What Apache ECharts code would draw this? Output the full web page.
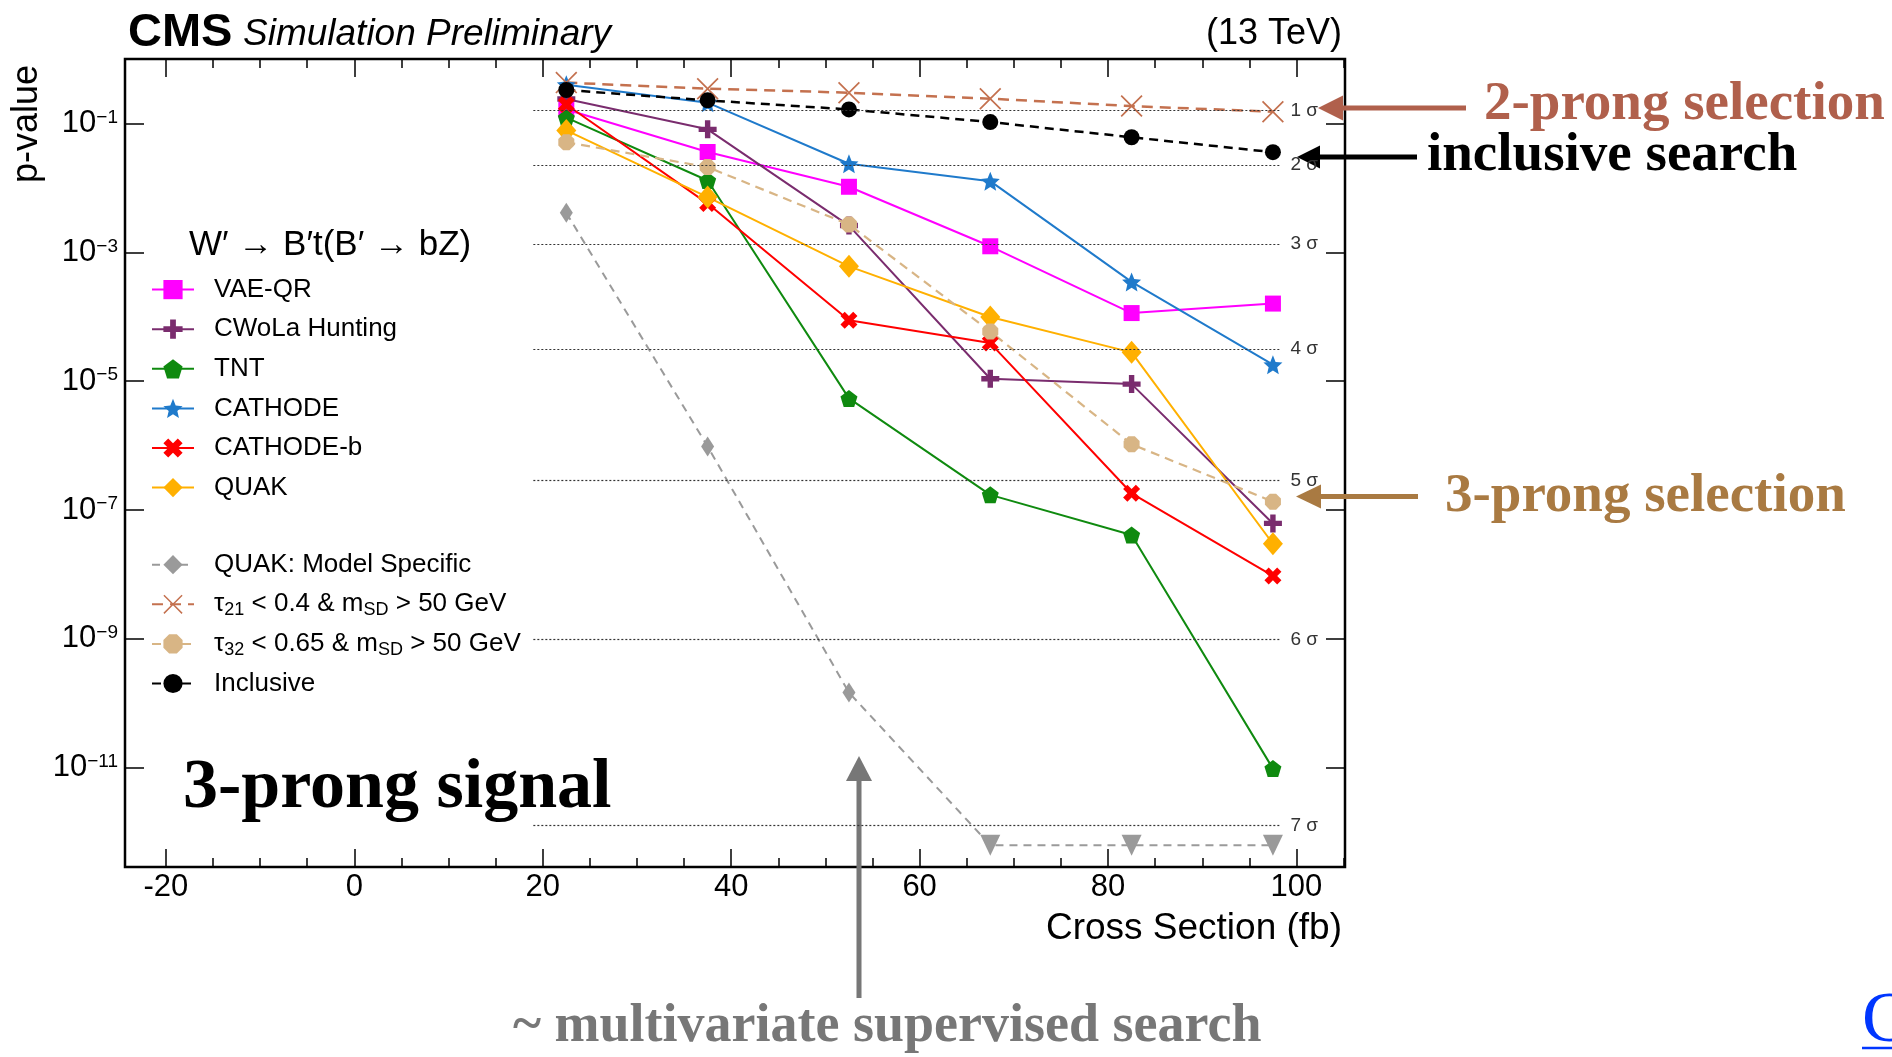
<!DOCTYPE html>
<html>
<head>
<meta charset="utf-8">
<title>p-value vs injected cross section</title>
<script src="https://cdn.jsdelivr.net/npm/echarts@6.0.0/dist/echarts.min.js"></script>
<style>
html, body { margin: 0; padding: 0; background: #fff; }
#chart { width: 1892px; height: 1057px; }
</style>
</head>
<body>
<div id="chart"></div>
<script>
// ---- data ---------------------------------------------------------------
// injected signal cross sections (fb)
const crossSections = [22.5, 37.5, 52.5, 67.5, 82.5, 97.5];

// local p-values of each search at every injected cross section
const vaeQr        = [0.165, 0.036, 0.0104, 1.24e-3, 1.14e-4, 1.6e-4];
const cwolaHunting = [0.24, 0.081, 2.6e-3, 1.09e-5, 9.0e-6, 6.2e-8];
const tnt          = [0.123, 0.013, 5.4e-6, 1.72e-7, 4.1e-8, 9.7e-12];
const cathode      = [0.40, 0.21, 0.0237, 0.0127, 3.47e-4, 1.8e-5];
const cathodeB     = [0.197, 5.7e-3, 8.8e-5, 3.9e-5, 1.82e-7, 9.5e-9];
const quak         = [0.078, 7.2e-3, 6.05e-4, 9.9e-5, 2.8e-5, 3.0e-8];
const quakModelSpecific = [4.1e-3, 9.7e-7, 1.47e-10, 6.3e-13, 6.3e-13, 6.3e-13];
// points that fall below the plotted range are drawn as downward triangles
const quakModelSpecificOffScale = [false, false, false, true, true, true];
const tau21Cut     = [0.43, 0.346, 0.30, 0.242, 0.186, 0.152];
const tau32Cut     = [0.051, 0.021, 2.7e-3, 5.9e-5, 1.05e-6, 1.35e-7];
const inclusive    = [0.33, 0.228, 0.165, 0.105, 0.061, 0.0358];

// one-sided significance reference lines
const sigmaLabels  = ['1 \u03c3', '2 \u03c3', '3 \u03c3', '4 \u03c3', '5 \u03c3', '6 \u03c3', '7 \u03c3'];
const sigmaPValues = [1.587e-1, 2.275e-2, 1.350e-3, 3.167e-5, 2.867e-7, 9.866e-10, 1.280e-12];
const sigmaXRange  = [19.0, 98.3];

// axes
const xTickValues   = [-20, 0, 20, 40, 60, 80, 100];
const xRange        = [-24.34, 105.15];
const yTickExponents = [-11, -9, -7, -5, -3, -1];   // labelled decades, 10^n
const logPRange     = [-12.54, 0];                   // log10(p) range

// ---- styling ------------------------------------------------------------
const FONT = '"Liberation Sans", Arial, Helvetica, sans-serif';
const SERIF = '"Liberation Serif", "Times New Roman", serif';

const SYM_PLUS    = 'path://M7,0H13V7H20V13H13V20H7V13H0V7H7Z';
const SYM_XTHICK  = 'path://M0,5L5,0L10,5L15,0L20,5L15,10L20,15L15,20L10,15L5,20L0,15L5,10Z';
const SYM_XTHIN   = 'path://M0,1.1L1.1,0L10,8.9L18.9,0L20,1.1L11.1,10L20,18.9L18.9,20L10,11.1L1.1,20L0,18.9L8.9,10Z';
const SYM_STAR    = 'path://M10,0L12.65,6.36L19.51,6.91L14.28,11.39L15.88,18.09L10,14.5L4.12,18.09L5.72,11.39L0.49,6.91L7.35,6.36Z';
const SYM_PENT    = 'path://M10,0L19.51,6.91L15.88,18.09L4.12,18.09L0.49,6.91Z';
const SYM_OCT     = 'path://M6,0H14L20,6V14L14,20H6L0,14V6Z';

function toPoints(values) {
  return crossSections.map((x, i) => [x, Math.log10(values[i])]);
}

function lineSeries(name, values, color, symbol, size, lineType, width) {
  return {
    name: name,
    type: 'line',
    data: toPoints(values),
    symbol: symbol,
    symbolSize: size,
    showSymbol: true,
    showAllSymbol: true,
    lineStyle: { color: color, width: width, type: lineType },
    itemStyle: { color: color },
    emphasis: { disabled: true },
    silent: true,
    animation: false
  };
}

const quakMsData = crossSections.map((x, i) => {
  const pt = [x, Math.log10(quakModelSpecific[i])];
  if (quakModelSpecificOffScale[i]) {
    return { value: pt, symbol: 'triangle', symbolRotate: 180, symbolSize: [20, 21] };
  }
  return { value: pt };
});

const series = [
  // significance reference lines
  {
    name: 'sigma',
    type: 'line',
    data: [],
    silent: true,
    animation: false,
    z: 1,
    markLine: {
      silent: true,
      animation: false,
      symbol: ['none', 'none'],
      lineStyle: { type: [2, 2], color: '#333', width: 1.2 },
      emphasis: { disabled: true },
      label: {
        show: true,
        position: 'end',
        distance: 10,
        formatter: p => p.name,
        fontFamily: FONT,
        fontSize: 19,
        color: '#333',
        padding: [0, 0, 9, 0]
      },
      data: sigmaPValues.map((p, i) => [
        { name: sigmaLabels[i], coord: [sigmaXRange[0], Math.log10(p)] },
        { coord: [sigmaXRange[1], Math.log10(p)] }
      ])
    }
  },
  lineSeries('VAE-QR', vaeQr, '#ff00ff', 'rect', 16, 'solid', 2),
  lineSeries('CWoLa Hunting', cwolaHunting, '#7a2c6e', SYM_PLUS, 18, 'solid', 2),
  lineSeries('TNT', tnt, '#0f8a0f', SYM_PENT, 17, 'solid', 2),
  lineSeries('CATHODE', cathode, '#1f7acb', SYM_STAR, 19, 'solid', 2),
  lineSeries('CATHODE-b', cathodeB, '#ff0000', SYM_XTHICK, 17, 'solid', 2),
  lineSeries('QUAK', quak, '#ffb000', 'diamond', [20, 23], 'solid', 2),
  Object.assign(lineSeries('QUAK: Model Specific', quakModelSpecific, '#9a9a9a', 'diamond', [13, 20], [8, 6], 2),
    { data: quakMsData }),
  lineSeries('tau21', tau21Cut, '#c4714f', SYM_XTHIN, 22, [11, 7], 2.5),
  lineSeries('tau32', tau32Cut, '#d8b585', SYM_OCT, 16, [9, 6], 2.2),
  lineSeries('Inclusive', inclusive, '#000000', 'circle', 16, [9, 6], 2.5)
];

const legendText = {
  tau21: '{n|\u03c4}{sub|21}{n| < 0.4 & m}{sub|SD}{n| > 50 GeV}',
  tau32: '{n|\u03c4}{sub|32}{n| < 0.65 & m}{sub|SD}{n| > 50 GeV}'
};

function legendBlock(names, top) {
  return {
    data: names,
    orient: 'vertical',
    left: 151,
    top: top,
    padding: 0,
    itemWidth: 42,
    itemHeight: 24,
    itemGap: 9.6,
    selectedMode: false,
    formatter: name => legendText[name] || name,
    textStyle: {
      fontFamily: FONT,
      fontSize: 26,
      color: '#000',
      lineHeight: 30,
      padding: [0, 0, 0, 15],
      rich: {
        n: { fontFamily: FONT, fontSize: 26, color: '#000', lineHeight: 30 },
        sub: { fontFamily: FONT, fontSize: 18, color: '#000', lineHeight: 18, padding: [12, 0, 0, 0] }
      }
    }
  };
}

const tickStyle = { color: '#000', width: 1.5 };

function xAxis(position, showLabels) {
  return {
    type: 'value',
    position: position,
    min: xRange[0],
    max: xRange[1],
    minInterval: 20,
    maxInterval: 20,
    axisLine: { show: false, onZero: false },
    splitLine: { show: false },
    axisTick: { show: true, inside: true, length: 18, lineStyle: tickStyle, customValues: xTickValues },
    minorTick: { show: true, splitNumber: 4, length: 9, lineStyle: tickStyle },
    axisLabel: {
      show: showLabels,
      customValues: xTickValues,
      fontFamily: FONT,
      fontSize: 31,
      color: '#000',
      margin: 5
    }
  };
}

function yAxis(position, showLabels) {
  return {
    type: 'value',
    position: position,
    min: logPRange[0],
    max: logPRange[1],
    axisLine: { show: false, onZero: false },
    splitLine: { show: false },
    axisTick: { show: true, inside: true, length: 19, lineStyle: tickStyle, customValues: yTickExponents },
    axisLabel: {
      show: showLabels,
      customValues: yTickExponents,
      margin: 7,
      formatter: v => '{b|10}{s|\u2212' + Math.abs(v) + '}',
      rich: {
        b: { fontFamily: FONT, fontSize: 31, lineHeight: 31, color: '#000' },
        s: { fontFamily: FONT, fontSize: 19, lineHeight: 19, color: '#000', verticalAlign: 'top' }
      }
    }
  };
}

function hArrow(tailX, tipX, y, color, headLen, headHalf, lw) {
  return [
    { type: 'line', silent: true, shape: { x1: tailX, y1: y, x2: tipX + headLen - 2, y2: y },
      style: { stroke: color, lineWidth: lw } },
    { type: 'polygon', silent: true,
      shape: { points: [[tipX, y], [tipX + headLen, y - headHalf], [tipX + headLen, y + headHalf]] },
      style: { fill: color } }
  ];
}

function label(text, x, y, font, color, align) {
  return { type: 'text', silent: true, x: x, y: y,
    style: { text: text, font: font, fill: color, align: align || 'left', verticalAlign: 'middle' } };
}

const graphics = [].concat(
  label('CMS', 128, 33, 'bold 47px ' + FONT, '#000'),
  label('Simulation Preliminary', 243, 35.2, 'italic 37px ' + FONT, '#000'),
  label('(13 TeV)', 1342, 34, '36px ' + FONT, '#000', 'right'),
  [{ type: 'text', silent: true, x: 27, y: 124, rotation: Math.PI / 2,
     style: { text: 'p-value', font: '36px ' + FONT, fill: '#000', align: 'center', verticalAlign: 'middle' } }],
  label('Cross Section (fb)', 1342, 928.5, '37px ' + FONT, '#000', 'right'),
  label('W\u2032 \u2192 B\u2032t(B\u2032 \u2192 bZ)', 189, 245, '35px ' + FONT, '#000'),
  hArrow(1466, 1318, 108, '#b0604c', 25, 12.5, 5),
  label('2-prong selection', 1484, 104.5, 'bold 55px ' + SERIF, '#b0604c'),
  hArrow(1417, 1297, 157, '#000000', 23, 11.5, 5),
  label('inclusive search', 1427, 156, 'bold 55px ' + SERIF, '#000'),
  hArrow(1418, 1296, 496.5, '#a97a42', 25, 12, 5),
  label('3-prong selection', 1445, 497, 'bold 55px ' + SERIF, '#a97a42'),
  label('3-prong signal', 183, 788.5, 'bold 70px ' + SERIF, '#000'),
  [
    { type: 'line', silent: true, shape: { x1: 859, y1: 998, x2: 859, y2: 778 },
      style: { stroke: '#777', lineWidth: 5 } },
    { type: 'polygon', silent: true, shape: { points: [[859, 756], [846, 781], [872, 781]] },
      style: { fill: '#777' } }
  ],
  label('~ multivariate supervised search', 513, 1027, 'bold 54px ' + SERIF, '#777'),
  label('C', 1862, 1022, '72px ' + SERIF, '#0036ff'),
  [{ type: 'line', silent: true, shape: { x1: 1862, y1: 1048, x2: 1892, y2: 1048 },
     style: { stroke: '#0036ff', lineWidth: 2.5 } }]
);

const chart = echarts.init(document.getElementById('chart'), null, { renderer: 'canvas' });
chart.setOption({
  backgroundColor: '#ffffff',
  animation: false,
  grid: {
    left: 125, top: 59, width: 1220, height: 808,
    show: true, borderColor: '#000', borderWidth: 2.5, backgroundColor: 'transparent',
    containLabel: false, outerBoundsMode: 'none'
  },
  xAxis: [xAxis('bottom', true), xAxis('top', false)],
  yAxis: [yAxis('left', true), yAxis('right', false)],
  legend: [
    legendBlock(['VAE-QR', 'CWoLa Hunting', 'TNT', 'CATHODE', 'CATHODE-b', 'QUAK'], 274.6),
    legendBlock(['QUAK: Model Specific', 'tau21', 'tau32', 'Inclusive'], 549.7)
  ],
  series: series,
  graphic: { elements: graphics }
});
</script>
</body>
</html>
